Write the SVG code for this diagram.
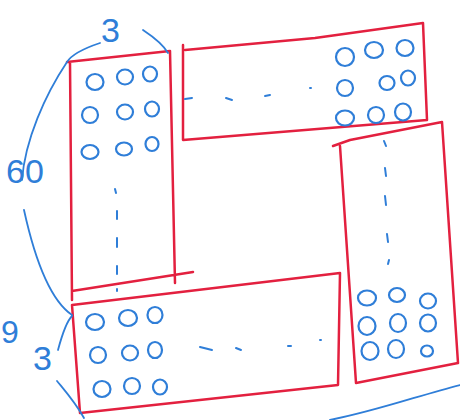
<svg xmlns="http://www.w3.org/2000/svg" width="460" height="420" viewBox="0 0 460 420">
<style>
.box{fill:none;stroke:#e3203f;stroke-width:2.5;stroke-linejoin:round;stroke-linecap:round}
.c{fill:none;stroke:#2f7ed8;stroke-width:2.2}
.d{fill:none;stroke:#2f7ed8;stroke-width:2;stroke-linecap:round}
.ann{fill:none;stroke:#2f7ed8;stroke-width:1.8;stroke-linecap:round}
.t{font-family:"Liberation Sans",Arial,sans-serif;fill:#2f7ed8;font-weight:normal}
</style>
<rect width="460" height="420" fill="#ffffff"/>

<g id="blockA">
<path class="box" d="M67,62 L170,51 L175,283 M70,62 L72,300 M72,291 L193,272"/>
<g class="c">
<ellipse cx="95" cy="82" rx="8.5" ry="8"/><ellipse cx="125" cy="77" rx="8" ry="7.5"/><ellipse cx="150" cy="74" rx="7" ry="7.5"/>
<ellipse cx="90" cy="115" rx="8" ry="8"/><ellipse cx="125" cy="112" rx="8" ry="7.5"/><ellipse cx="152" cy="109" rx="7" ry="7.5"/>
<ellipse cx="90" cy="152" rx="8.5" ry="7"/><ellipse cx="124" cy="149" rx="8" ry="6.5"/><ellipse cx="152" cy="144" rx="6.5" ry="7"/>
</g>
<path class="d" d="M115,189 L116,193 M117,211 L117,219 M117,238 L117,247 M117,266 L117,274 M117,289 L117,291"/>
</g>

<g id="blockB">
<path class="box" d="M185,50 L315,38 L423,23 L427,120 L183,140 L183,45"/>
<g class="c">
<ellipse cx="345" cy="57" rx="9" ry="9"/><ellipse cx="374" cy="50" rx="9" ry="8"/><ellipse cx="405" cy="48" rx="8.5" ry="8"/>
<ellipse cx="345" cy="88" rx="8" ry="8"/><ellipse cx="387" cy="83" rx="7.5" ry="7"/><ellipse cx="408" cy="78" rx="7" ry="7.5"/>
<ellipse cx="345" cy="118" rx="9" ry="7.5"/><ellipse cx="376" cy="115" rx="8" ry="8"/><ellipse cx="403" cy="112" rx="8" ry="8.5"/>
</g>
<path class="d" d="M185,99 L192,98 M226,98 L232,100 M265,96 L270,95 M310,88 L311,88"/>
</g>

<g id="blockC">
<path class="box" d="M333,146 L350,140 L442,122 L458,363 L356,383 L340,146"/>
<g class="c">
<ellipse cx="367" cy="298" rx="9" ry="7.5"/><ellipse cx="397" cy="295" rx="8" ry="7"/><ellipse cx="428" cy="301" rx="8" ry="7.5"/>
<ellipse cx="367" cy="326" rx="8.5" ry="9"/><ellipse cx="398" cy="323" rx="8" ry="9"/><ellipse cx="428" cy="323" rx="8" ry="8.5"/>
<ellipse cx="370" cy="351" rx="8.5" ry="9"/><ellipse cx="396" cy="349" rx="8" ry="9"/><ellipse cx="427" cy="351" rx="6" ry="5.5"/>
</g>
<path class="d" d="M384,141 L386,146 M385,168 L386,176 M385,196 L386,205 M387,234 L388,242 M389,260 L388,264"/>
</g>

<g id="blockD">
<path class="box" d="M72,305 L340,273 L338,385 L80,413 L72,305"/>
<g class="c">
<ellipse cx="95" cy="322" rx="9" ry="8"/><ellipse cx="128" cy="318" rx="9" ry="8"/><ellipse cx="155" cy="315" rx="7.5" ry="8"/>
<ellipse cx="98" cy="355" rx="8" ry="8"/><ellipse cx="130" cy="353" rx="8" ry="7.5"/><ellipse cx="155" cy="350" rx="7" ry="8"/>
<ellipse cx="102" cy="389" rx="8.5" ry="8"/><ellipse cx="132" cy="386" rx="8" ry="8"/><ellipse cx="160" cy="387" rx="7" ry="7.5"/>
</g>
<path class="d" d="M200,347 L212,350 M236,348 L241,350 M288,346 L291,346 M320,340 L321,340"/>
</g>

<g id="annotations">
<path class="ann" d="M100,43 C85,48 72,54 67,62 C45,95 25,140 22,180"/>
<path class="ann" d="M143,30 C155,38 164,46 168,53"/>
<path class="ann" d="M24,210 C35,260 50,300 72,315"/>
<path class="ann" d="M58,350 C62,335 66,322 72,316"/>
<path class="ann" d="M57,381 C66,392 75,402 84,418"/>
<path class="ann" d="M330,420 C380,410 420,395 460,385"/>
<text class="t" x="101" y="42" font-size="34">3</text>
<text class="t" x="6" y="183" font-size="34">60</text>
<text class="t" x="1" y="343" font-size="32">9</text>
<text class="t" x="33" y="370" font-size="34">3</text>
</g>
</svg>
